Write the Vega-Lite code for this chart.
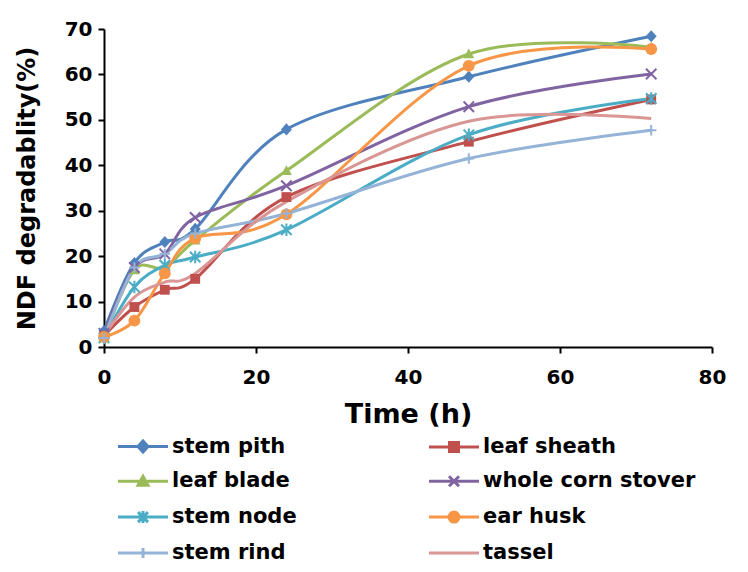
{
  "$schema": "https://vega.github.io/schema/vega-lite/v6.json",
  "width": 608,
  "height": 318,
  "autosize": "none",
  "padding": {"left": 104, "top": 29, "right": 36, "bottom": 225},
  "background": "white",
  "config": {
    "view": {"stroke": null},
    "font": "DejaVu Sans",
    "axis": {
      "grid": false,
      "labelFlush": false,
      "domainColor": "black",
      "domainWidth": 2,
      "tickColor": "black",
      "tickWidth": 2,
      "tickSize": 6,
      "labelFont": "DejaVu Sans",
      "labelFontWeight": "bold",
      "labelFontSize": 20,
      "labelColor": "black",
      "titleFont": "DejaVu Sans",
      "titleFontWeight": "bold",
      "titleColor": "black"
    }
  },
  "data": {
    "values": [
      {"part": "stem pith", "time": 0, "ndf": 3.5},
      {"part": "stem pith", "time": 4, "ndf": 18.5},
      {"part": "stem pith", "time": 8, "ndf": 23.1},
      {"part": "stem pith", "time": 12, "ndf": 26},
      {"part": "stem pith", "time": 24, "ndf": 47.9},
      {"part": "stem pith", "time": 48, "ndf": 59.5},
      {"part": "stem pith", "time": 72, "ndf": 68.4},
      {"part": "leaf sheath", "time": 0, "ndf": 2.5},
      {"part": "leaf sheath", "time": 4, "ndf": 8.8},
      {"part": "leaf sheath", "time": 8, "ndf": 12.6},
      {"part": "leaf sheath", "time": 12, "ndf": 15},
      {"part": "leaf sheath", "time": 24, "ndf": 33},
      {"part": "leaf sheath", "time": 48, "ndf": 45.2},
      {"part": "leaf sheath", "time": 72, "ndf": 54.5},
      {"part": "leaf blade", "time": 0, "ndf": 2},
      {"part": "leaf blade", "time": 4, "ndf": 17},
      {"part": "leaf blade", "time": 8, "ndf": 17.5},
      {"part": "leaf blade", "time": 12, "ndf": 23.5},
      {"part": "leaf blade", "time": 24, "ndf": 38.8},
      {"part": "leaf blade", "time": 48, "ndf": 64.5},
      {"part": "leaf blade", "time": 72, "ndf": 66},
      {"part": "whole corn stover", "time": 0, "ndf": 3},
      {"part": "whole corn stover", "time": 4, "ndf": 17.5},
      {"part": "whole corn stover", "time": 8, "ndf": 20.5},
      {"part": "whole corn stover", "time": 12, "ndf": 28.5},
      {"part": "whole corn stover", "time": 24, "ndf": 35.5},
      {"part": "whole corn stover", "time": 48, "ndf": 52.9},
      {"part": "whole corn stover", "time": 72, "ndf": 60.1},
      {"part": "stem node", "time": 0, "ndf": 2},
      {"part": "stem node", "time": 4, "ndf": 13.2},
      {"part": "stem node", "time": 8, "ndf": 18},
      {"part": "stem node", "time": 12, "ndf": 19.8},
      {"part": "stem node", "time": 24, "ndf": 25.8},
      {"part": "stem node", "time": 48, "ndf": 46.7},
      {"part": "stem node", "time": 72, "ndf": 54.7},
      {"part": "ear husk", "time": 0, "ndf": 2.2},
      {"part": "ear husk", "time": 4, "ndf": 5.8},
      {"part": "ear husk", "time": 8, "ndf": 16.2},
      {"part": "ear husk", "time": 12, "ndf": 23.9},
      {"part": "ear husk", "time": 24, "ndf": 29.2},
      {"part": "ear husk", "time": 48, "ndf": 61.9},
      {"part": "ear husk", "time": 72, "ndf": 65.6},
      {"part": "stem rind", "time": 0, "ndf": 2},
      {"part": "stem rind", "time": 4, "ndf": 17.5},
      {"part": "stem rind", "time": 8, "ndf": 20.5},
      {"part": "stem rind", "time": 12, "ndf": 25},
      {"part": "stem rind", "time": 24, "ndf": 29.4},
      {"part": "stem rind", "time": 48, "ndf": 41.5},
      {"part": "stem rind", "time": 72, "ndf": 47.7},
      {"part": "tassel", "time": 0, "ndf": 2.5},
      {"part": "tassel", "time": 4, "ndf": 11},
      {"part": "tassel", "time": 8, "ndf": 14.3},
      {"part": "tassel", "time": 12, "ndf": 16.2},
      {"part": "tassel", "time": 24, "ndf": 32},
      {"part": "tassel", "time": 48, "ndf": 49.7},
      {"part": "tassel", "time": 72, "ndf": 50.3}
    ]
  },
  "encoding": {
    "x": {
      "field": "time",
      "type": "quantitative",
      "scale": {"domain": [0, 80], "nice": false},
      "axis": {"values": [0, 20, 40, 60, 80], "title": "Time (h)", "titleFontSize": 27, "labelPadding": 14, "titlePadding": 14}
    },
    "y": {
      "field": "ndf",
      "type": "quantitative",
      "scale": {"domain": [0, 70], "nice": false},
      "axis": {"values": [0, 10, 20, 30, 40, 50, 60, 70], "title": "NDF degradablity(%)", "titleFontSize": 24, "labelPadding": 6, "titlePadding": 25}
    }
  },
  "layer": [
    {
      "mark": {"type": "line", "interpolate": "cardinal", "strokeWidth": 3},
      "encoding": {
        "color": {
          "field": "part",
          "type": "nominal",
          "scale": {
            "domain": ["stem pith", "leaf sheath", "leaf blade", "whole corn stover", "stem node", "ear husk", "stem rind", "tassel"],
            "range": ["#4F81BD", "#C0504D", "#9BBB59", "#8064A2", "#4BACC6", "#F79646", "#95B3D7", "#D99694"]
          },
          "legend": {
            "orient": "none",
            "legendX": 10,
            "legendY": 407,
            "padding": 0,
            "direction": "horizontal",
            "columns": 2,
            "title": null,
            "columnPadding": 126,
            "rowPadding": 11.8,
            "symbolSize": 100,
            "symbolStrokeWidth": 3,
            "symbolOffset": 18.5,
            "labelOffset": 18.5,
            "labelFont": "DejaVu Sans",
            "labelFontWeight": "bold",
            "labelFontSize": 21,
            "labelColor": "black",
            "labelLimit": 400,
            "encode": {
              "symbols": {
                "update": {
                  "shape": {"signal": "datum.value === 'stem pith' ? 'M-5,0H5M0,-1.1L1,0L0,1.1L-1,0Z' : datum.value === 'leaf sheath' ? 'M-5,0H5M-0.9,-0.9H0.9V0.9H-0.9Z' : datum.value === 'leaf blade' ? 'M-5,0H5M0,-1L1,0.8H-1Z' : datum.value === 'whole corn stover' ? 'M-5,0H5M-1,-1L1,1M-1,1L1,-1' : datum.value === 'stem node' ? 'M-5,0H5M-1,-1L1,1M-1,1L1,-1M0,-1.2L0,1.2' : datum.value === 'ear husk' ? 'M-5,0H5M-1,0A1,1 0 1,0 1,0A1,1 0 1,0 -1,0Z' : datum.value === 'stem rind' ? 'M-5,0H5M0,-1L0,1' : 'M-5,0H5'"},
                  "fill": {"scale": "color", "field": "value"},
                  "stroke": {"scale": "color", "field": "value"},
                  "strokeWidth": {"value": 3},
                  "opacity": {"value": 1}
                }
              }
            }
          }
        }
      }
    },
    {
      "transform": [{"filter": {"field": "part", "equal": "stem pith"}}],
      "mark": {"type": "point", "shape": "M0,-1.1L1,0L0,1.1L-1,0Z", "filled": true, "size": 120, "opacity": 1},
      "encoding": {"color": {"field": "part", "type": "nominal", "legend": null}}
    },
    {
      "transform": [{"filter": {"field": "part", "equal": "leaf sheath"}}],
      "mark": {"type": "point", "shape": "M-0.9,-0.9H0.9V0.9H-0.9Z", "filled": true, "size": 120, "opacity": 1},
      "encoding": {"color": {"field": "part", "type": "nominal", "legend": null}}
    },
    {
      "transform": [{"filter": {"field": "part", "equal": "leaf blade"}}],
      "mark": {"type": "point", "shape": "M0,-1L1,0.8H-1Z", "filled": true, "size": 120, "opacity": 1},
      "encoding": {"color": {"field": "part", "type": "nominal", "legend": null}}
    },
    {
      "transform": [{"filter": {"field": "part", "equal": "whole corn stover"}}],
      "mark": {"type": "point", "shape": "M-1,-1L1,1M-1,1L1,-1", "filled": false, "strokeWidth": 2, "size": 110, "opacity": 1},
      "encoding": {"color": {"field": "part", "type": "nominal", "legend": null}}
    },
    {
      "transform": [{"filter": {"field": "part", "equal": "stem node"}}],
      "mark": {"type": "point", "shape": "M-1,-1L1,1M-1,1L1,-1M0,-1.2L0,1.2", "filled": false, "strokeWidth": 2, "size": 110, "opacity": 1},
      "encoding": {"color": {"field": "part", "type": "nominal", "legend": null}}
    },
    {
      "transform": [{"filter": {"field": "part", "equal": "ear husk"}}],
      "mark": {"type": "point", "shape": "circle", "filled": true, "size": 140, "opacity": 1},
      "encoding": {"color": {"field": "part", "type": "nominal", "legend": null}}
    },
    {
      "transform": [{"filter": {"field": "part", "equal": "stem rind"}}],
      "mark": {"type": "point", "shape": "M0,-1L0,1M-1,0L1,0", "filled": false, "strokeWidth": 2, "size": 110, "opacity": 1},
      "encoding": {"color": {"field": "part", "type": "nominal", "legend": null}}
    }
  ]
}
